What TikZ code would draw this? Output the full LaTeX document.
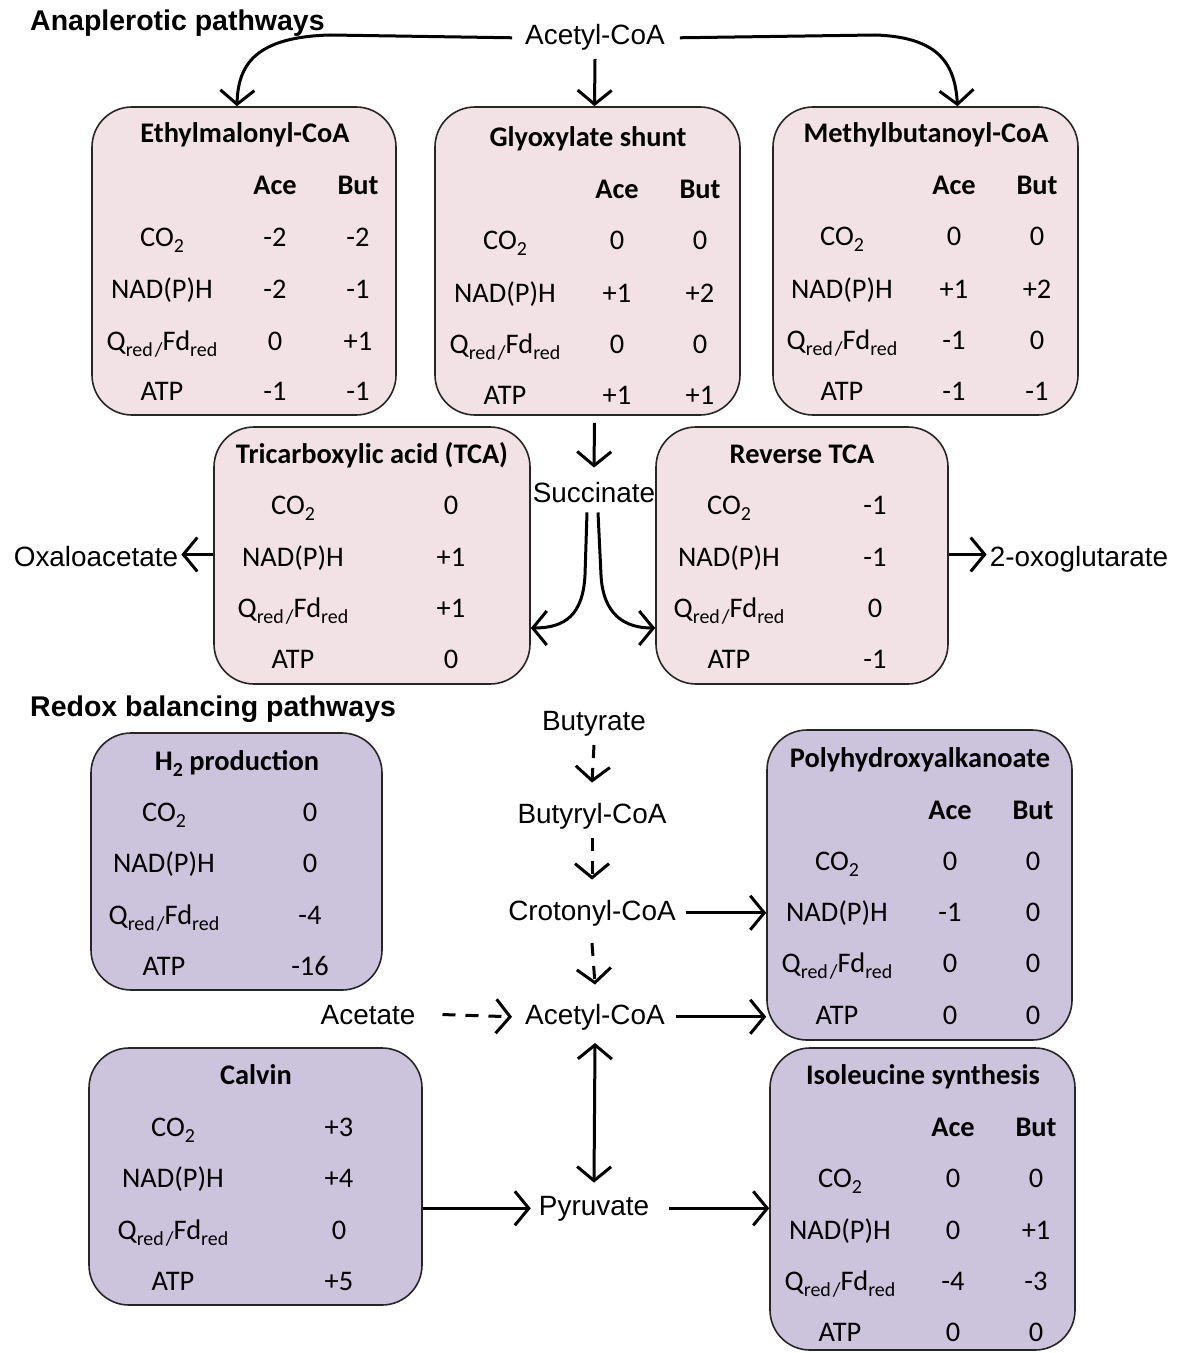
\documentclass[tikz,border=0pt]{standalone}
\usepackage{fontspec}
\setmainfont{Carlito}
\newfontfamily\arialf{Liberation Sans}
\usetikzlibrary{arrows.meta,fit}
\definecolor{pinkfill}{HTML}{F2E1E5}
\definecolor{purpfill}{HTML}{CCC3DD}
\tikzset{
 pbox/.style={draw=black!85, line width=1.6bp, rounded corners=40bp, fill=pinkfill, inner sep=0pt},
 vbox/.style={pbox, fill=purpfill},
 cell/.style={anchor=base, inner sep=0pt, font=\fontsize{28.5}{34}\selectfont},
 hcell/.style={anchor=base, inner sep=0pt, font=\fontsize{28.5}{34}\selectfont\bfseries},
 lab/.style={anchor=base, inner xsep=3bp, inner ysep=4bp, font=\arialf\fontsize{28}{33}\selectfont},
 ttl/.style={anchor=base west, inner sep=0pt, font=\arialf\bfseries\fontsize{28.6}{33}\selectfont},
 conn/.style={line width=3bp, -{Straight Barb[length=14bp,width=34bp,line width=3bp]}},
 dconn/.style={conn, dash pattern=on 13bp off 10bp},
 bconn/.style={line width=3bp, {Straight Barb[length=14bp,width=34bp,line width=3bp]}-{Straight Barb[length=14bp,width=34bp,line width=3bp]}},
}
\newcommand\sbx[1]{\raisebox{-6bp}{\fontsize{20}{22}\selectfont #1}}
\newcommand\QF{Q\sbx{red\kern2bp/}Fd\sbx{red}}
\newcommand\COt{CO\sbx{2}}
% two-value row: prefix, y, label x, label, x1, v1, x2, v2
\newcommand\trow[8]{\node[cell] (#1l) at (#3,#2) {#4};
 \node[cell] (#1a) at (#5,#2) {#6};
 \node[cell] (#1b) at (#7,#2) {#8};}
% one-value row: prefix, y, label x, label, x1, v1
\newcommand\srow[6]{\node[cell] (#1l) at (#3,#2) {#4};
 \node[cell] (#1v) at (#5,#2) {#6};}
\begin{document}
\begin{tikzpicture}[x=1bp,y=-1bp]
\useasboundingbox[fill=white] (0,0) rectangle (1178,1353);

% ---------- boxes ----------
\node[pbox, fit={(92,107)(396,415)}] (eth) {};
\node[pbox, fit={(435,107)(740,415)}] (gly) {};
\node[pbox, fit={(773,107)(1078,415)}] (mbu) {};
\node[pbox, fit={(214,427)(530,684)}] (tca) {};
\node[pbox, fit={(656,427)(948,684)}] (rtca) {};
\node[vbox, fit={(91,733)(382,990)}] (h2) {};
\node[vbox, fit={(767,730)(1072,1040)}] (pha) {};
\node[vbox, fit={(89,1048)(422,1305)}] (calv) {};
\node[vbox, fit={(770,1048)(1075,1350)}] (iso) {};

% ---------- titles ----------
\node[ttl] (anaT) at (30,31) {Anaplerotic pathways};
\node[ttl] (redT) at (30,716) {Redox balancing pathways};

% ---------- Ethylmalonyl-CoA ----------
\node[hcell] (ethT) at (245,143) {Ethylmalonyl-CoA};
\node[hcell] (ethA) at (275,195) {Ace};
\node[hcell] (ethB) at (358,195) {But};
\trow{ethr1}{247}{162}{\COt}{275}{-2}{358}{-2}
\trow{ethr2}{298}{162}{NAD(P)H}{275}{-2}{358}{-1}
\trow{ethr3}{350}{162}{\QF}{275}{0}{358}{+1}
\trow{ethr4}{400}{162}{ATP}{275}{-1}{358}{-1}

% ---------- Glyoxylate shunt ----------
\node[hcell] (glyT) at (588,147) {Glyoxylate shunt};
\node[hcell] (glyA) at (617,199) {Ace};
\node[hcell] (glyB) at (700,199) {But};
\trow{glyr1}{250}{505}{\COt}{617}{0}{700}{0}
\trow{glyr2}{302}{505}{NAD(P)H}{617}{+1}{700}{+2}
\trow{glyr3}{353}{505}{\QF}{617}{0}{700}{0}
\trow{glyr4}{404}{505}{ATP}{617}{+1}{700}{+1}

% ---------- Methylbutanoyl-CoA ----------
\node[hcell] (mbuT) at (926,143) {Methylbutanoyl-CoA};
\node[hcell] (mbuA) at (954,195) {Ace};
\node[hcell] (mbuB) at (1037,195) {But};
\trow{mbur1}{246}{842}{\COt}{954}{0}{1037}{0}
\trow{mbur2}{298}{842}{NAD(P)H}{954}{+1}{1037}{+2}
\trow{mbur3}{349}{842}{\QF}{954}{-1}{1037}{0}
\trow{mbur4}{400}{842}{ATP}{954}{-1}{1037}{-1}

% ---------- TCA ----------
\node[hcell] (tcaT) at (372,463) {Tricarboxylic acid (TCA)};
\srow{tcar1}{514}{293}{\COt}{451}{0}
\srow{tcar2}{566}{293}{NAD(P)H}{451}{+1}
\srow{tcar3}{617}{293}{\QF}{451}{+1}
\srow{tcar4}{668}{293}{ATP}{451}{0}

% ---------- Reverse TCA ----------
\node[hcell] (rtcaT) at (802,463) {Reverse TCA};
\srow{rtcar1}{514}{729}{\COt}{875}{-1}
\srow{rtcar2}{566}{729}{NAD(P)H}{875}{-1}
\srow{rtcar3}{617}{729}{\QF}{875}{0}
\srow{rtcar4}{668}{729}{ATP}{875}{-1}

% ---------- H2 production ----------
\node[hcell] (h2T) at (237,770) {H\sbx{\bfseries 2} production};
\srow{h2r1}{821}{164}{\COt}{310}{0}
\srow{h2r2}{872}{164}{NAD(P)H}{310}{0}
\srow{h2r3}{924}{164}{\QF}{310}{-4}
\srow{h2r4}{975}{164}{ATP}{310}{-16}

% ---------- Polyhydroxyalkanoate ----------
\node[hcell] (phaT) at (920,767) {Polyhydroxyalkanoate};
\node[hcell] (phaA) at (950,819) {Ace};
\node[hcell] (phaB) at (1033,819) {But};
\trow{phar1}{870}{837}{\COt}{950}{0}{1033}{0}
\trow{phar2}{921}{837}{NAD(P)H}{950}{-1}{1033}{0}
\trow{phar3}{972}{837}{\QF}{950}{0}{1033}{0}
\trow{phar4}{1024}{837}{ATP}{950}{0}{1033}{0}

% ---------- Calvin ----------
\node[hcell] (calvT) at (256,1084) {Calvin};
\srow{calvr1}{1136}{173}{\COt}{339}{+3}
\srow{calvr2}{1187}{173}{NAD(P)H}{339}{+4}
\srow{calvr3}{1239}{173}{\QF}{339}{0}
\srow{calvr4}{1290}{173}{ATP}{339}{+5}

% ---------- Isoleucine synthesis ----------
\node[hcell] (isoT) at (923,1084) {Isoleucine synthesis};
\node[hcell] (isoA) at (953,1136) {Ace};
\node[hcell] (isoB) at (1036,1136) {But};
\trow{isor1}{1187}{840}{\COt}{953}{0}{1036}{0}
\trow{isor2}{1239}{840}{NAD(P)H}{953}{0}{1036}{+1}
\trow{isor3}{1290}{840}{\QF}{953}{-4}{1036}{-3}
\trow{isor4}{1341}{840}{ATP}{953}{0}{1036}{0}

% ---------- metabolite labels ----------
\node[lab] (acoA) at (595,45) {Acetyl-CoA};
\node[lab] (succ) at (594,502) {Succinate};
\node[lab] (oxa) at (96,566) {Oxaloacetate};
\node[lab] (oxg) at (1079,566) {2-oxoglutarate};
\node[lab] (buty) at (594,730) {Butyrate};
\node[lab] (butc) at (592,823) {Butyryl-CoA};
\node[lab] (crot) at (592,920) {Crotonyl-CoA};
\node[lab] (acoB) at (595,1024) {Acetyl-CoA};
\node[lab] (acet) at (368,1024) {Acetate};
\node[lab] (pyr) at (594,1215) {Pyruvate};

% ---------- connectors ----------
\coordinate (tl1) at (330,35);
\coordinate (tr1) at (875,35);
\draw[conn] ([xshift=-10bp]acoA.west) -- (tl1) .. controls (255,37) and (238,65) .. ([xshift=-7bp]eth.north);
\draw[conn] ([xshift=12bp]acoA.east) -- (tr1) .. controls (940,37) and (955,65) .. ([xshift=32bp]mbu.north);
\draw[conn] ([yshift=-4bp]acoA.south) -- ([xshift=7bp]gly.north);
\draw[conn] ([xshift=7bp,yshift=-7bp]gly.south) -- ([yshift=10bp]succ.north);
\coordinate (sl) at (585,575);
\coordinate (sr) at (601,575);
\draw[conn] ([xshift=-7bp,yshift=-6bp]succ.south) -- (sl) .. controls (583,615) and (565,628) .. (tca.east |- 0,628);
\draw[conn] ([xshift=4bp,yshift=-6bp]succ.south) -- (sr) .. controls (603,615) and (625,628) .. (rtca.west |- 0,628);
\draw[conn] ([yshift=1bp]tca.west) -- ([yshift=1bp]tca.west -| oxa.east);
\draw[conn] ([yshift=1bp]rtca.east) -- ([yshift=1bp]rtca.east -| oxg.west);

\draw[dconn] ([yshift=-5bp]buty.south) -- ([yshift=16bp]butc.north);
\draw[dconn] ([yshift=-5bp]butc.south) -- ([yshift=16bp]crot.north);
\draw[dconn] ([yshift=-13bp]crot.south) -- ([yshift=15bp]acoB.north);
\draw[dconn] ([xshift=24bp]acet.east) -- ([xshift=-10bp]acoB.west);
\draw[conn] ([xshift=7bp]crot.east) -- (crot.east -| pha.west);
\draw[conn] ([xshift=8bp]acoB.east) -- (acoB.east -| pha.west);
\draw[bconn] ([yshift=-9bp]acoB.south) -- ([yshift=9bp]pyr.north);
\draw[conn] (calv.east |- pyr.east) -- ([xshift=-5bp]pyr.west);
\draw[conn] ([xshift=17bp]pyr.east) -- (pyr.east -| iso.west);
\end{tikzpicture}
\end{document}
